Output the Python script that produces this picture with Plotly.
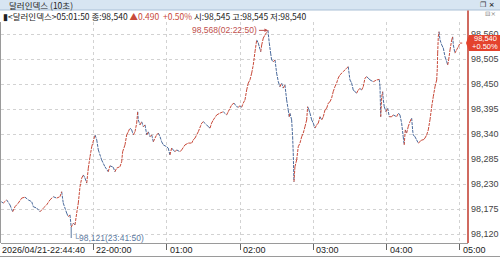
import plotly.graph_objects as go
import pandas as pd

# ---------------- data ----------------
start_time = "2026-04-21 22:44:40"
# minutes elapsed since start_time
minutes = [
    0.0, 1.6, 4.4, 7.1, 9.3, 11.2, 13.9, 16.7, 19.4, 22.1,
    24.9, 26.2, 29.0, 31.7, 34.4, 37.1, 39.8, 42.5, 45.3, 48.0,
    49.4, 50.7, 53.5, 54.8, 56.2, 57.2, 58.9, 60.3, 61.7, 63.0,
    64.4, 65.8, 67.1, 68.5, 69.9, 71.2, 72.6, 74.0, 76.7, 78.1,
    79.4, 82.1, 84.8, 87.5, 88.9, 91.6, 93.0, 94.4, 97.1, 98.5,
    99.3, 101.2, 102.6, 103.9, 105.3, 106.7, 108.0, 109.4, 110.8, 111.6,
    112.1, 113.5, 114.9, 116.2, 117.6, 119.0, 120.3, 121.7, 123.1, 124.4,
    125.8, 127.1, 128.5, 129.9, 131.2, 132.6, 135.3, 136.6, 138.0, 139.4,
    140.7, 142.1, 143.5, 146.2, 147.6, 150.3, 153.0, 155.8, 157.1, 158.5,
    161.2, 164.0, 165.3, 168.1, 169.4, 170.8, 172.1, 173.5, 176.3, 179.0,
    181.6, 184.4, 185.7, 188.5, 190.4, 192.6, 193.9, 195.3, 196.7, 198.0,
    199.4, 200.8, 202.1, 203.5, 204.9, 206.2, 207.6, 209.0, 210.3, 211.1,
    212.3, 213.1, 214.4, 215.8, 218.2, 219.3, 220.4, 221.2, 222.6, 224.0,
    225.3, 226.7, 228.0, 229.4, 230.7, 232.1, 233.5, 234.8, 235.6, 236.2,
    237.6, 238.4, 238.9, 239.5, 240.3, 241.7, 243.0, 244.4, 245.8, 247.1,
    248.5, 249.9, 250.7, 251.7, 252.6, 254.0, 255.3, 256.7, 258.1, 259.4,
    260.8, 262.2, 263.5, 264.9, 266.3, 267.6, 269.0, 270.3, 271.6, 273.0,
    274.4, 275.7, 277.1, 279.8, 282.6, 283.9, 285.3, 286.7, 288.0, 289.4,
    290.8, 292.1, 293.5, 294.9, 296.2, 297.6, 299.0, 300.3, 301.7, 304.4,
    307.2, 309.3, 309.9, 310.5, 311.3, 312.1, 312.6, 313.4, 314.8, 316.2,
    317.5, 319.5, 320.8, 323.5, 324.9, 326.2, 327.6, 328.9, 329.7, 330.6,
    331.7, 333.0, 334.4, 335.8, 336.6, 337.1, 338.5, 339.9, 341.2, 342.6,
    344.0, 345.3, 346.7, 348.1, 349.4, 350.8, 352.2, 353.5, 354.9, 356.3,
    356.8, 357.1, 357.6, 358.2, 359.0, 360.4, 361.7, 363.1, 364.5, 365.3,
    366.1, 367.2, 368.6, 369.4, 369.9, 371.2, 372.6, 374.0, 375.4, 377.2,
]
prices = [
    98.191, 98.188, 98.195, 98.184, 98.169, 98.180, 98.188, 98.199, 98.201, 98.195,
    98.191, 98.180, 98.177, 98.169, 98.177, 98.184, 98.195, 98.202, 98.199, 98.202,
    98.213, 98.188, 98.166, 98.158, 98.162, 98.135, 98.144, 98.140, 98.166, 98.188,
    98.224, 98.243, 98.250, 98.243, 98.232, 98.265, 98.290, 98.312, 98.338, 98.327,
    98.305, 98.283, 98.268, 98.257, 98.270, 98.267, 98.257, 98.265, 98.268, 98.279,
    98.301, 98.316, 98.338, 98.345, 98.353, 98.349, 98.338, 98.345, 98.364, 98.389,
    98.371, 98.360, 98.367, 98.356, 98.360, 98.338, 98.345, 98.334, 98.338, 98.323,
    98.331, 98.338, 98.342, 98.334, 98.323, 98.316, 98.312, 98.309, 98.294, 98.309,
    98.305, 98.301, 98.305, 98.301, 98.305, 98.316, 98.320, 98.320, 98.327, 98.331,
    98.345, 98.364, 98.367, 98.360, 98.356, 98.353, 98.364, 98.371, 98.382, 98.386,
    98.389, 98.382, 98.389, 98.404, 98.408, 98.400, 98.399, 98.402, 98.399, 98.408,
    98.415, 98.437, 98.452, 98.459, 98.474, 98.492, 98.521, 98.547, 98.540, 98.532,
    98.521, 98.536, 98.551, 98.558, 98.568, 98.540, 98.518, 98.503, 98.499, 98.503,
    98.474, 98.455, 98.444, 98.452, 98.441, 98.448, 98.415, 98.393, 98.378, 98.386,
    98.371, 98.334, 98.298, 98.235, 98.268, 98.283, 98.312, 98.320, 98.334, 98.342,
    98.356, 98.371, 98.400, 98.393, 98.386, 98.371, 98.364, 98.353, 98.360, 98.364,
    98.378, 98.371, 98.378, 98.393, 98.397, 98.408, 98.411, 98.419, 98.433, 98.444,
    98.452, 98.463, 98.470, 98.477, 98.485, 98.488, 98.459, 98.452, 98.437, 98.433,
    98.430, 98.437, 98.440, 98.437, 98.444, 98.463, 98.466, 98.463, 98.459, 98.455,
    98.459, 98.460, 98.444, 98.378, 98.422, 98.433, 98.415, 98.400, 98.389, 98.397,
    98.378, 98.378, 98.382, 98.378, 98.386, 98.382, 98.364, 98.334, 98.316, 98.349,
    98.342, 98.356, 98.367, 98.375, 98.349, 98.338, 98.334, 98.327, 98.320, 98.323,
    98.327, 98.327, 98.331, 98.338, 98.349, 98.371, 98.400, 98.422, 98.444, 98.459,
    98.485, 98.518, 98.554, 98.565, 98.547, 98.536, 98.529, 98.510, 98.499, 98.492,
    98.503, 98.525, 98.547, 98.554, 98.536, 98.518, 98.525, 98.532, 98.540, 98.540,
]

hour_ticks = ["2026-04-22 00:00", "2026-04-22 01:00", "2026-04-22 02:00",
              "2026-04-22 03:00", "2026-04-22 04:00", "2026-04-22 05:00"]
hour_labels = ["22-00:00", "01:00", "02:00", "03:00", "04:00", "05:00"]
start_label = "2026/04/21-22:44:40"
y_ticks = [98.120, 98.175, 98.230, 98.285, 98.340, 98.395, 98.450, 98.505, 98.560]

high_value, high_time_label = 98.568, "02:22:50"
low_value, low_time_label = 98.121, "23:41:50"
last_value, change_abs, change_pct = 98.540, 0.490, 0.50
bar_open, bar_high, bar_low = 98.545, 98.545, 98.540
last_time_label = "05:01:50"
title_text = "달러인덱스 (10초)"
name_text = "달러인덱스"

# ---------------- figure ----------------
W, H = 500, 257
ML, MR, MT, MB = 1, 32, 22, 14
PW, PH = W - ML - MR, H - MT - MB

def px(x):
    return (x - ML) / PW

def py(y):
    return (H - MB - y) / PH

def kr(v):
    return f"{v:.3f}".replace(".", ",")

t0 = pd.Timestamp(start_time)
times = [t0 + pd.Timedelta(minutes=m) for m in minutes]

RED = "#c84a3a"
BLUE = "#4a6a9c"
up_x, up_y, dn_x, dn_y = [], [], [], []
for i in range(1, len(times)):
    if prices[i] >= prices[i - 1]:
        up_x += [times[i - 1], times[i], None]
        up_y += [prices[i - 1], prices[i], None]
    else:
        dn_x += [times[i - 1], times[i], None]
        dn_y += [prices[i - 1], prices[i], None]

fig = go.Figure()
fig.add_trace(go.Scatter(x=dn_x, y=dn_y, mode="lines",
                         line=dict(color=BLUE, width=1, dash="3px,1px"), hoverinfo="skip"))
fig.add_trace(go.Scatter(x=up_x, y=up_y, mode="lines",
                         line=dict(color=RED, width=1, dash="3px,1px"), hoverinfo="skip"))

FONT = "Liberation Sans, Arial, Noto Sans CJK KR"
KFONT = "Noto Sans CJK KR, Liberation Sans"

x_range = [t0 - pd.Timedelta(seconds=15), t0 + pd.Timedelta(seconds=22915)]
y_range = [98.1002, 98.5864]

fig.update_layout(
    width=W, height=H, margin=dict(l=ML, r=MR, t=MT, b=MB, pad=0),
    paper_bgcolor="white", plot_bgcolor="white", showlegend=False,
    separators=",.",
    font=dict(family=FONT, size=9, color="#333"),
    xaxis=dict(type="date", range=x_range, tickvals=hour_ticks,
               showticklabels=False, ticks="outside", ticklen=6,
               tickcolor="#666", tickwidth=1,
               showgrid=True, gridcolor="#d2d2d2", griddash="dot", gridwidth=1,
               showline=True, linecolor="#9a9a9a", linewidth=1,
               zeroline=False, fixedrange=True),
    yaxis=dict(side="right", range=y_range, tickvals=y_ticks,
               tickformat=".3f", ticks="", ticklabelstandoff=2,
               tickfont=dict(family=FONT, size=9, color="#444"),
               showgrid=True, gridcolor="#d2d2d2", griddash="dot", gridwidth=1,
               showline=False, zeroline=False, fixedrange=True),
)

shapes = []
anns = []
# title bar
shapes.append(dict(type="rect", xref="paper", yref="paper",
                   x0=px(0), x1=px(W), y0=py(10), y1=py(0),
                   fillcolor="#d7e5f2", line=dict(width=0), layer="below"))
shapes.append(dict(type="line", xref="paper", yref="paper",
                   x0=px(0), x1=px(W), y0=py(10), y1=py(10),
                   line=dict(color="#a9bfd6", width=1)))
anns.append(dict(xref="paper", yref="paper", x=px(7), y=py(5), xanchor="left",
                 yanchor="middle", showarrow=False, text=title_text,
                 font=dict(family=KFONT, size=8.5, color="#1f1f1f")))
anns.append(dict(xref="paper", yref="paper", x=px(497), y=py(5), xanchor="right",
                 yanchor="middle", showarrow=False, text="<b>❐ ×</b>",
                 font=dict(family="DejaVu Sans", size=7, color="#333")))
# info row
info = (f"▮&lt;{name_text}&gt;{last_time_label} 종:{kr(last_value)}"
        + f" <span style='color:{RED}'>▲{change_abs:.3f}  +{change_pct:.2f}%</span>"
        + f" 시:{kr(bar_open)} 고:{kr(bar_high)} 저:{kr(bar_low)}")
anns.append(dict(xref="paper", yref="paper", x=px(1), y=py(15.5), xanchor="left",
                 yanchor="middle", showarrow=False, text=info,
                 font=dict(family=KFONT, size=8.5, color="#222")))
anns.append(dict(xref="paper", yref="paper", x=px(498), y=py(14.5), xanchor="right",
                 yanchor="middle", showarrow=False, text="⊟×",
                 font=dict(family="DejaVu Sans", size=6.5, color="#888")))
# left border
shapes.append(dict(type="line", xref="paper", yref="paper", x0=px(0.5), x1=px(0.5),
                   y0=py(243), y1=py(22), line=dict(color="#9a9a9a", width=1)))
# bottom border
shapes.append(dict(type="line", xref="paper", yref="paper", x0=px(0), x1=px(W),
                   y0=py(256.5), y1=py(256.5), line=dict(color="#9a9a9a", width=1)))
# red vertical line (right border)
shapes.append(dict(type="line", xref="paper", yref="paper", x0=px(468), x1=px(468),
                   y0=py(243), y1=py(10.5), line=dict(color="#c0392b", width=1.5)))
# price tag
tag_path = (f"M {px(466)},{py(43)} L {px(469)},{py(35)} L {px(500)},{py(35)} "
            f"L {px(500)},{py(51)} L {px(469)},{py(51)} Z")
shapes.append(dict(type="path", xref="paper", yref="paper", path=tag_path,
                   fillcolor="#e4432d", line=dict(width=0)))
anns.append(dict(xref="paper", yref="paper", x=px(485), y=py(39), xanchor="center",
                 yanchor="middle", showarrow=False, text=kr(last_value),
                 font=dict(family=FONT, size=7.5, color="white")))
anns.append(dict(xref="paper", yref="paper", x=px(485), y=py(46.5), xanchor="center",
                 yanchor="middle", showarrow=False, text=f"+{change_pct:.2f}%",
                 font=dict(family=FONT, size=7.5, color="white")))

# x labels
anns.append(dict(xref="paper", yref="paper", x=px(0), y=py(250), xanchor="left",
                 yanchor="middle", showarrow=False, text=start_label,
                 font=dict(family=FONT, size=9, color="#222")))
for tv, tl in zip(hour_ticks, hour_labels):
    anns.append(dict(xref="x", yref="paper", x=tv, y=py(250), xanchor="left",
                     yanchor="middle", showarrow=False, text=tl, xshift=1,
                     font=dict(family=FONT, size=9, color="#222")))

# high annotation
i_hi = max(range(len(prices)), key=lambda i: prices[i])
anns.append(dict(xref="x", yref="y", x=times[i_hi], y=prices[i_hi],
                 ax=-9, ay=0, showarrow=True, arrowhead=2, arrowsize=0.7,
                 arrowwidth=1, arrowcolor="#c0504d", xanchor="right",
                 text=f"{kr(high_value)}({high_time_label})",
                 font=dict(family=FONT, size=8.5, color="#c0504d")))
# low annotation
i_lo = min(range(len(prices)), key=lambda i: prices[i])
y_lab = y_range[0] + (y_range[1] - y_range[0]) * py(238)
shapes.append(dict(type="line", xref="x", yref="y", x0=times[i_lo], x1=times[i_lo],
                   y0=prices[i_lo], y1=y_lab, line=dict(color="#5a78a0", width=1)))
anns.append(dict(xref="x", yref="paper", x=times[i_lo], y=py(238), xanchor="left",
                 yanchor="middle", showarrow=False, xshift=0,
                 text=f"└{kr(low_value)}({low_time_label})",
                 font=dict(family=FONT, size=8.5, color="#5a78a0")))

fig.update_layout(shapes=shapes, annotations=anns)
fig.write_html("out.html")
